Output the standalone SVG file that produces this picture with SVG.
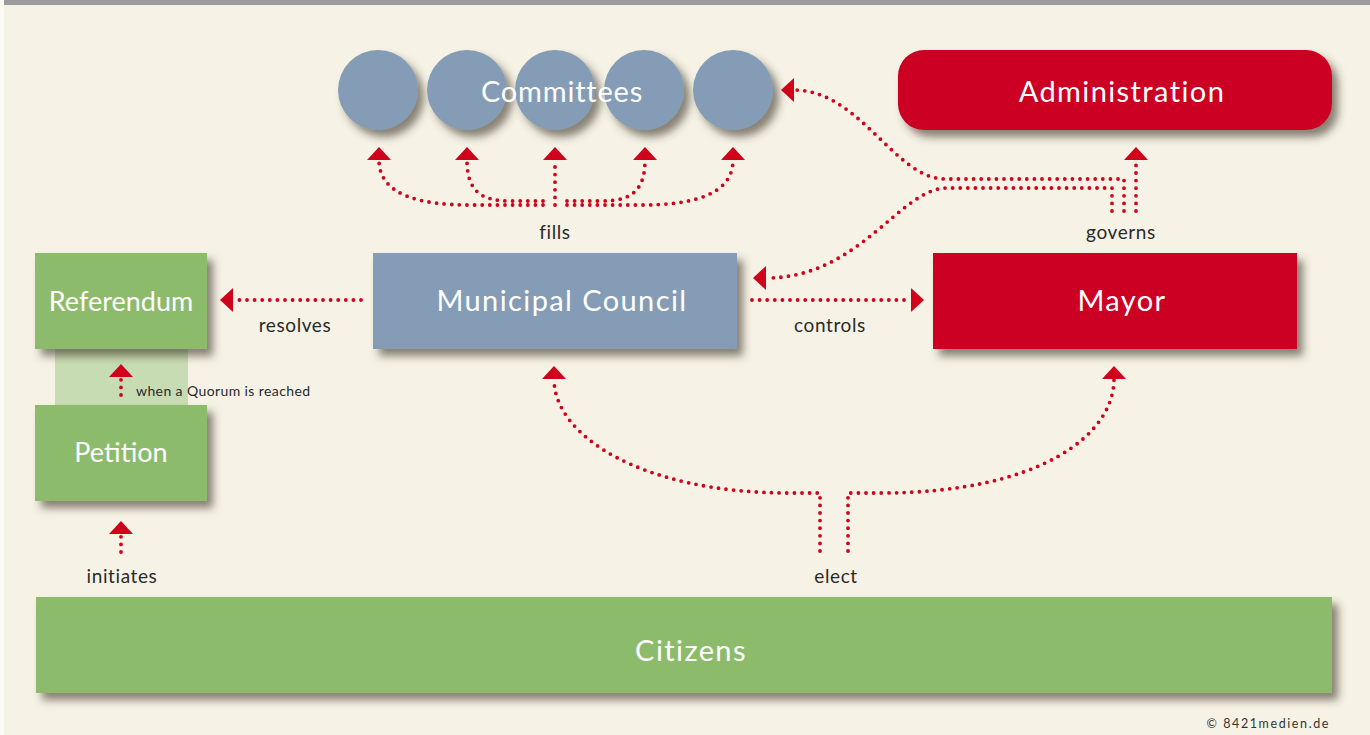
<svg xmlns="http://www.w3.org/2000/svg" width="1370" height="735" viewBox="0 0 1370 735">
<defs>
<style>
.bg{fill:#F6F3E6}
.blue{fill:#849CB5}
.red{fill:#CC0621}
.green{fill:#8DBB6C}
.t{font-family:Lato,"Open Sans","Liberation Sans",sans-serif;font-weight:400;fill:#fff;text-anchor:middle;font-size:29px;letter-spacing:1.4px}
.l{font-family:Lato,"Open Sans","Liberation Sans",sans-serif;fill:#2a2a2a;text-anchor:middle;font-size:19px;letter-spacing:0.6px}
.dot{fill:none;stroke:#D0021B;stroke-width:3.8;stroke-linecap:round;stroke-dasharray:0 7.6}
</style>
<filter id="sh" x="-20%" y="-30%" width="140%" height="170%">
<feDropShadow dx="6" dy="7" stdDeviation="4" flood-color="#3a3028" flood-opacity="0.6"/>
</filter>
<marker id="ah" markerUnits="userSpaceOnUse" viewBox="0 0 13 24" refX="0" refY="12" markerWidth="13" markerHeight="24" orient="auto">
<path d="M0,0 L13,12 L0,24 z" fill="#D0021B"/>
</marker>
</defs>
<rect class="bg" x="0" y="0" width="1370" height="735"/>
<rect x="0" y="0" width="4" height="735" fill="#FBFAF4"/>
<rect x="4" y="0" width="1366" height="5" fill="#9B9B9B"/>

<g id="committees">
<g filter="url(#sh)">
<circle class="blue" cx="378" cy="90" r="40"/>
<circle class="blue" cx="467" cy="90" r="40"/>
<circle class="blue" cx="555" cy="90" r="40"/>
<circle class="blue" cx="644" cy="90" r="40"/>
<circle class="blue" cx="733" cy="90" r="40"/>
</g>
<text class="t" x="562" y="102" style="letter-spacing:0.8px">Committees</text>
</g>

<g id="administration">
<rect class="red" x="898" y="50" width="434" height="80" rx="26" filter="url(#sh)"/>
<text class="t" x="1122" y="102">Administration</text>
</g>

<g id="referendum">
<rect x="55" y="345" width="133" height="64" fill="#C8DCB4"/>
<rect class="green" x="35" y="253" width="172" height="96" filter="url(#sh)"/>
<text class="t" x="121" y="311" style="letter-spacing:0;font-size:27px">Referendum</text>
</g>

<g id="petition">
<rect class="green" x="35" y="405" width="172" height="96" filter="url(#sh)"/>
<text class="t" x="121" y="462" style="letter-spacing:0;font-size:27px">Petition</text>
</g>

<g id="council">
<rect class="blue" x="373" y="253" width="364" height="96" filter="url(#sh)"/>
<text class="t" x="562" y="311">Municipal Council</text>
</g>

<g id="mayor">
<rect class="red" x="933" y="253" width="364" height="96" filter="url(#sh)"/>
<text class="t" x="1122" y="311">Mayor</text>
</g>

<g id="citizens">
<rect class="green" x="36" y="597" width="1296" height="96" filter="url(#sh)"/>
<text class="t" x="691" y="661">Citizens</text>
</g>

<g id="connectors">
<path class="dot" d="M543,205 L470,205 C420,205 379,195 379,160" marker-end="url(#ah)"/>
<path class="dot" d="M543,201 L510,201 C480,201 467,190 467,160" marker-end="url(#ah)"/>
<path class="dot" d="M555,205 L555,160" marker-end="url(#ah)"/>
<path class="dot" d="M567,201 L602,201 C632,201 645,190 645,160" marker-end="url(#ah)"/>
<path class="dot" d="M567,205 L642,205 C692,205 733,195 733,160" marker-end="url(#ah)"/>

<path class="dot" d="M1136,211 L1136,160" marker-end="url(#ah)"/>
<path class="dot" d="M1124,211 L1124,179 L945,179 C895,179 860,90 794,90" marker-end="url(#ah)"/>
<path class="dot" d="M1112,211 L1112,188 L947,188 C900,188 860,278 766,278" marker-end="url(#ah)"/>

<path class="dot" d="M752,300 L911,300" marker-end="url(#ah)"/>
<path class="dot" d="M361,300 L233,300" marker-end="url(#ah)"/>
<path class="dot" d="M121,395 L121,377" marker-end="url(#ah)"/>
<path class="dot" d="M121,552 L121,534" marker-end="url(#ah)"/>

<path class="dot" d="M820,551 L820,493 L790,493 C640,493 554,435 554,379" marker-end="url(#ah)"/>
<path class="dot" d="M848,551 L848,493 L880,493 C1040,493 1114,435 1114,379" marker-end="url(#ah)"/>
</g>

<g id="labels">
<text class="l" x="555" y="239">fills</text>
<text class="l" x="1121" y="239">governs</text>
<text class="l" x="295" y="332">resolves</text>
<text class="l" x="830" y="332">controls</text>
<text class="l" x="122" y="583">initiates</text>
<text class="l" x="836" y="583">elect</text>
<text x="136" y="396" style="font-family:Lato,'Open Sans','Liberation Sans',sans-serif;font-size:14px;fill:#2a2a2a;letter-spacing:0.4px">when a Quorum is reached</text>
<text x="1330" y="728" style="font-family:Lato,'Open Sans','Liberation Sans',sans-serif;font-size:12.5px;fill:#333;text-anchor:end;letter-spacing:1.6px">© 8421medien.de</text>
</g>
</svg>
